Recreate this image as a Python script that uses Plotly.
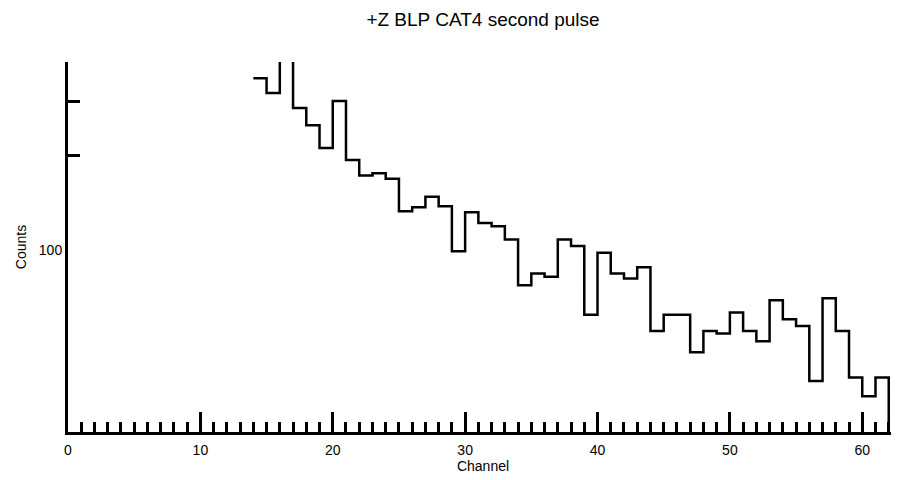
import numpy as np
import plotly.graph_objects as go

# Histogram: bin left edges (channel) and counts per bin (bin width = 1 channel)
channels = list(range(14, 62))
counts = [355, 318, 440, 285, 251, 212, 300, 194, 173, 176,
          169, 133, 137, 148, 138, 99, 132, 122, 119, 108,
          77, 84, 82, 108, 103, 62, 98, 84, 81, 88,
          55, 62, 62, 47, 55, 54, 63, 55, 51, 69,
          60, 57, 38, 70, 55, 39, 34, 39]

title_text = "+Z BLP CAT4 second pulse"
x_title = "Channel"
y_title = "Counts"
x_ticks = [0, 10, 20, 30, 40, 50, 60]
y_label_vals = [100]
y_tick_vals = [200, 300, 400]

y_min, y_max = 26.1, 400
x_min, x_max = 0, 62.7

# step outline: edges, closing drop down to the axis at the last edge
xs = channels + [channels[-1] + 1, channels[-1] + 1]
ys = counts + [counts[-1], y_min / 10]

fig = go.Figure()
fig.add_trace(go.Scatter(x=xs, y=ys, mode="lines", line=dict(shape="hv", color="black", width=2.5),
                         showlegend=False, hoverinfo="skip"))
fig.add_trace(go.Scatter(x=[None], y=[None], yaxis="y2", showlegend=False))

font = "Liberation Sans, Arial, Helvetica, sans-serif"
fig.update_layout(
    template="none",
    width=891, height=472,
    margin=dict(l=60, r=1, t=54, b=48, autoexpand=False),
    paper_bgcolor="white", plot_bgcolor="white",
    font=dict(family=font, size=14, color="black"),
    title=dict(text=title_text, x=0.5, xref="paper", xanchor="center", y=0.975, yanchor="middle",
               font=dict(size=19, color="black", family=font), automargin=False),
    xaxis=dict(range=[x_min, x_max], tickvals=x_ticks, ticks="inside", ticklen=20, tickwidth=2.5,
               tickcolor="black", showline=True, linewidth=3, linecolor="black", showgrid=False,
               zeroline=False, tickfont=dict(size=14), automargin=False, ticklabelstandoff=3,
               minor=dict(dtick=1, tick0=0, ticks="inside", ticklen=10, tickwidth=2.5, tickcolor="black",
                          showgrid=False),
               title=dict(text=x_title, font=dict(size=14), standoff=0)),
    yaxis=dict(type="log", range=[np.log10(y_min), np.log10(y_max)], tickvals=y_label_vals,
               ticktext=[str(v) for v in y_label_vals], ticks="", showline=True, linewidth=3,
               linecolor="black", showgrid=False, zeroline=False, tickfont=dict(size=14),
               automargin=False, title=dict(text=y_title, font=dict(size=14), standoff=9)),
    yaxis2=dict(type="log", range=[np.log10(y_min), np.log10(y_max)], overlaying="y", anchor="x",
                side="left", tickvals=y_tick_vals, showticklabels=False, ticks="inside", ticklen=12,
                tickwidth=2.5, tickcolor="black", showline=False, showgrid=False, zeroline=False,
                automargin=False),
)

fig.write_html("out.html")
